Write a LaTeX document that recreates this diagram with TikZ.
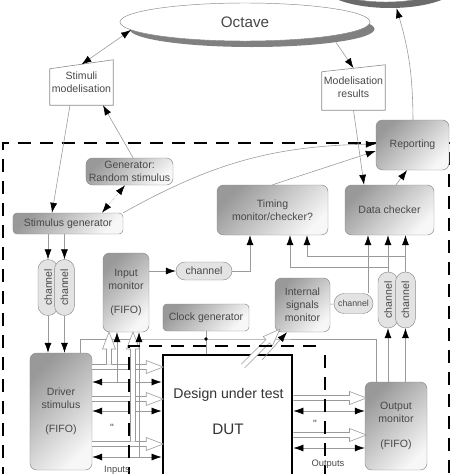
\documentclass[tikz,border=0pt]{standalone}
\usepackage{fontspec}
\setmainfont{Liberation Sans}
\newfontfamily\plainfont{Liberation Sans}
\usepackage{tikz}
\usetikzlibrary{positioning,shapes.geometric,arrows.meta}

\definecolor{linegray}{HTML}{9A9A9A}
\definecolor{boxgray}{HTML}{8A8A8A}
\definecolor{textgray}{HTML}{484848}

% hollow (white) arrow: start, angle, length
\newcommand{\fatarrow}[3]{\draw[fatline, shift={(#1)}, rotate=#2] (0,2.5) -- (#3-17,2.5) -- (#3-17,6.5) -- (#3,0) -- (#3-17,-6.5) -- (#3-17,-2.5) -- (0,-2.5);}

\begin{document}
\begin{tikzpicture}[x=0.03cm, y=-0.03cm,
        every node/.style={text=textgray, font=\fontsize{9}{11}\selectfont, inner sep=0pt, align=center},
        greybox/.style={rectangle, draw=boxgray, rounded corners=0.2cm, top color=black!40, bottom color=black!3, shading angle=45},
        vpill/.style={rectangle, draw=boxgray, fill=black!11, rounded corners=0.3cm, minimum width=0.6cm, minimum height=1.68cm},
        hpill/.style={rectangle, draw=boxgray, fill=black!11, rounded corners=0.27cm, minimum height=0.54cm},
        paper/.style={draw=boxgray, line width=0.5pt},
        sig/.style={draw=linegray, line width=0.5pt},
        fatline/.style={draw=linegray, fill=white, line width=0.5pt},
        bigdash/.style={draw=black, line width=1.6pt, dash pattern=on 0.4cm off 0.26cm},
        >={Latex[length=8.5pt,width=6pt,color=black]}]

        \useasboundingbox (0,0) rectangle (474,474);

        % test bench frame
        \draw[bigdash] (3,480) -- (3,143) -- (449,143) -- (449,480);

        % octave
        \node[ellipse, fill=black!50, minimum width=7.35cm, minimum height=1.08cm] (octshadow) at (252,29) {};
        \node[ellipse, draw=boxgray, fill=white, minimum width=7.5cm, minimum height=1.14cm, font=\fontsize{13}{15}\selectfont] (octave) at (245,22) {Octave};
        \node[ellipse, fill=black!58, minimum width=4.14cm, minimum height=1.44cm] (topshadow) at (390,-16) {};
        \node[ellipse, draw=boxgray, fill=white, minimum width=4.02cm, minimum height=1.44cm] (topell) at (386,-22) {};

        \node[minimum width=1.89cm, minimum height=1.35cm] (stimmod) at (81.5,82.5) {Stimuli\\modelisation};
        \draw[paper] (stimmod.south west) -- (stimmod.south east) -- (stimmod.north east) -- ([yshift=-0.27cm]stimmod.north west) -- cycle;
        \node[minimum width=1.89cm, minimum height=1.35cm] (modres) at (353.5,87.5) {Modelisation\\results};
        \draw[paper] (modres.south west) -- (modres.south east) -- (modres.north east) -- ([yshift=-0.21cm]modres.north west) -- cycle;

        \node[greybox, minimum width=2.61cm, minimum height=0.81cm] (genrand) at (129.5,171.5) {Generator:\\Random stimulus};
        \node[greybox, rounded corners=0.12cm, minimum width=3.3cm, minimum height=0.63cm] (stimgen) at (68,223.5) {Stimulus generator};
        \node[greybox, minimum width=2.19cm, minimum height=1.5cm] (reporting) at (412.5,145) {Reporting};
        \node[greybox, minimum width=3.33cm, minimum height=1.5cm] (timing) at (272.5,210) {Timing\\monitor/checker?};
        \node[greybox, minimum width=2.67cm, minimum height=1.5cm] (datacheck) at (389.5,210) {Data checker};

        \node[vpill] (chL1) at (48,287.5) {\rotatebox{90}{channel}};
        \node[vpill] (chL2) [right=-0.12cm of chL1] {\rotatebox{90}{channel}};
        \node[greybox, minimum width=1.38cm, minimum height=2.37cm] (inmon) at (126,292.5) {Input\\monitor\\[10pt](FIFO)};
        \node[hpill, minimum width=1.68cm] (chIn) at (204,271) {channel};
        \node[greybox, rounded corners=0.12cm, minimum width=2.58cm, minimum height=0.81cm] (clockgen) at (206,317.5) {Clock generator};
        \node[greybox, minimum width=1.65cm, minimum height=1.62cm] (intmon) at (302.5,305) {Internal\\signals\\monitor};
        \node[hpill, minimum width=1.17cm, minimum height=0.6cm, rounded corners=0.3cm, font=\fontsize{7.5}{9}\selectfont] (chInt) at (353.5,303.5) {channel};
        \node[vpill] (chR1) at (388,300) {\rotatebox{90}{channel}};
        \node[vpill] (chR2) [right=-0.09cm of chR1] {\rotatebox{90}{channel}};

        \node[greybox, minimum width=1.86cm, minimum height=3.51cm] (driver) at (61,411.5) {Driver\\stimulus\\[10pt](FIFO)};
        \node[draw=black, line width=2.5pt, fill=white, minimum width=3.87cm, minimum height=4.05cm] (dut) at (227.5,422.5) {};
        \node[font=\fontsize{12}{14}\selectfont, text=black!80] (dutname) at (228.5,395) {Design under test};
        \node[font=\fontsize{13}{15}\selectfont, text=black!80] (dutshort) at (228,429) {DUT};
        \node[greybox, minimum width=1.86cm, minimum height=2.64cm] (outmon) at (396,426) {Output\\monitor\\[10pt](FIFO)};

        % modelling loop
        \draw[sig, <->] (octave.184) -- ([yshift=-0.14cm]stimmod.north);
        \draw[sig, ->] (octshadow.351) -- ([yshift=-0.1cm]modres.north);
        \draw[sig, ->] (stimmod.south -| 70,0) -- (stimgen.north -| 52,0);
        \draw[sig, ->] (genrand.north -| 133,0) -- (stimmod.south -| 103,0);
        \draw[sig, densely dotted, <->] (genrand.south -| 125,0) -- (stimgen.north -| 102,0);
        \draw[sig, ->] (stimgen.north east) to[bend left=14] (reporting.west |- 0,144);
        \draw[sig, ->] (timing.north) -- (reporting.west |- 0,151);
        \draw[sig, ->] (reporting.north -| 413,0) to[bend right=8] (topshadow.285);
        \draw[sig, ->] (modres.south) -- (datacheck.north -| 364,0);
        \draw[sig, ->] (datacheck.north -| 396,0) -- (reporting.south -| 407,0);

        % channels
        \foreach \ch in {chL1, chL2} {
            \draw[sig, ->] (stimgen.south -| \ch) -- (\ch);
            \draw[sig, ->] (\ch) -- (\ch |- driver.north);
        }
        \foreach \ch in {chR1, chR2} {
            \draw[sig, ->] (outmon.north -| \ch) -- (\ch);
            \draw[sig, ->] (\ch) -- (\ch |- datacheck.south);
        }
        \draw[sig, ->] (chR1 |- 0,267) -| (timing.south -| 290,0);
        \draw[sig, ->] (chR2 |- 0,256) -| (timing.south -| 307,0);
        \draw[sig, ->] (inmon.east |- chIn) -- (chIn);
        \draw[sig, ->] (chIn) -| (timing.south -| 250,0);
        \draw[sig] (intmon) -- (chInt);
        \draw[sig, ->] (chInt.north -| 368,0) -- (datacheck.south -| 368,0);

        % clock
        \coordinate (clk) at (clockgen.south |- 0,339);
        \draw[sig] (driver.north -| 80,0) |- (clk) -| (outmon.north -| 376,0);
        \draw[sig] (clockgen.south) -- (dut.north -| clk);
        \fill[black] (clk) circle[radius=1.5pt];

        % DUT ports
        \foreach \y in {367, 399, 444} {\fatarrow{driver.east |- 0,\y}{0}{71}}
        \foreach \y in {382, 411, 457} {\draw[sig, <->] (driver.east |- 0,\y) -- (dut.west |- 0,\y);}
        \foreach \y in {398, 435} {\fatarrow{dut.east |- 0,\y}{0}{73}}
        \foreach \y in {411, 448} {\draw[sig, <->] (dut.east |- 0,\y) -- (outmon.west |- 0,\y);}
        \fatarrow{109,364.5}{90}{32.5}
        \fatarrow{133,441.5}{90}{109.5}
        \draw[sig, ->] (117,382) -- (inmon.south -| 117,0);
        \draw[sig, ->] (139,457) -- (inmon.south -| 139,0);
        \fatarrow{243,366}{45}{52}
        \draw[sig, ->] (262,360) -- (intmon.south -| 287,0);

        % DUT frame
        \draw[bigdash] (129,480) -- (129,346) -- (322,346);
        \draw[bigdash] (325,355) -- (325,480);

        \node (quotein) at (112,428) {\plainfont"};
        \node[font=\fontsize{8}{10}\selectfont] (inputs) at (117,470) {Inputs};
        \node (quoteout) at (315,424) {\plainfont"};
        \node[font=\fontsize{8}{10}\selectfont] (outputs) at (328,464) {Outputs};

\end{tikzpicture}
\end{document}
